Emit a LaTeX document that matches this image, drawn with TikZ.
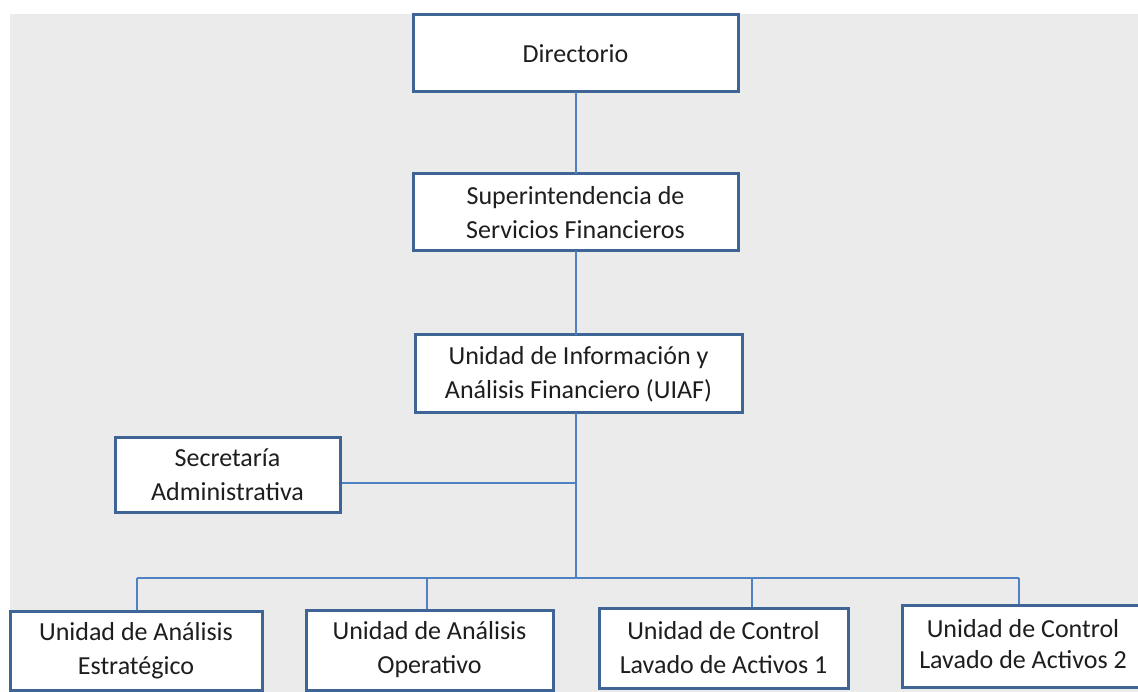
\documentclass[tikz,border=0pt]{standalone}
\usepackage{fontspec}
\setmainfont{Carlito}
\definecolor{bg}{HTML}{EBEBEB}
\definecolor{boxline}{HTML}{3F6597}
\definecolor{conn}{HTML}{4F82C4}
\definecolor{txt}{HTML}{1E1E1E}
\begin{document}
\begin{tikzpicture}[x=1pt,y=-1pt,
  orgbox/.style={draw=boxline, line width=3pt, fill=white, inner sep=0pt,
    align=center, text=txt, font=\fontsize{26}{34}\selectfont},
  link/.style={draw=conn, line width=2pt}]
\useasboundingbox (0,0) rectangle (1138,692);
\fill[white] (0,0) rectangle (1138,692);
\fill[bg] (10,14) rectangle (1138,692);
\begin{scope}
\clip (0,0) rectangle (1138,692);
\coordinate (t1) at (576,92);
\coordinate (t2) at (576,174);
\coordinate (t3) at (576,251);
\coordinate (t4) at (576,335);
\coordinate (t5) at (576,413);
\coordinate (bus) at (576,578);
\coordinate (secj) at (576,483);
\coordinate (busL) at (137,578);
\coordinate (busR) at (1019,578);
\coordinate (d2) at (427,578);
\coordinate (d3) at (752,578);
\node[orgbox, minimum width=325pt, minimum height=77pt] (dir) at (575.5,53.5) {Directorio};
\node[orgbox, minimum width=325pt, minimum height=77pt] (sup) at (575.5,212.5) {Superintendencia de\\Servicios Financieros};
\node[orgbox, minimum width=327pt, minimum height=78pt] (uiaf) at (578.5,374) {Unidad de Información y\\Análisis Financiero (UIAF)};
\node[orgbox, minimum width=225pt, minimum height=75pt] (sec) at (227.5,474.5) {Secretaría\\Administrativa};
\node[orgbox, minimum width=252pt, minimum height=79pt] (u1) at (136,650.5) {Unidad de Análisis\\Estratégico};
\node[orgbox, minimum width=247pt, minimum height=80pt] (u2) at (429.5,650) {Unidad de Análisis\\Operativo};
\node[orgbox, minimum width=249pt, minimum height=80pt] (u3) at (723.5,648) {Unidad de Control\\Lavado de Activos 1};
\node[orgbox, minimum width=256pt, minimum height=82pt] (u4) at (1030,646) {\hspace*{-14pt}\begin{tabular}{@{}c@{}}Unidad de Control\\[-3pt]Lavado de Activos 2\end{tabular}};
\draw[link] (t1) -- (t2);
\draw[link] (t3) -- (t4);
\draw[link] (t5) -- (bus);
\draw[link] (sec.east |- secj) -- (secj);
\draw[link] (busL) -- (busR);
\draw[link] (busL) -- (busL |- u1.north);
\draw[link] (d2) -- (d2 |- u2.north);
\draw[link] (d3) -- (d3 |- u3.north);
\draw[link] (busR) -- (busR |- u4.north);
\end{scope}
\end{tikzpicture}
\end{document}
